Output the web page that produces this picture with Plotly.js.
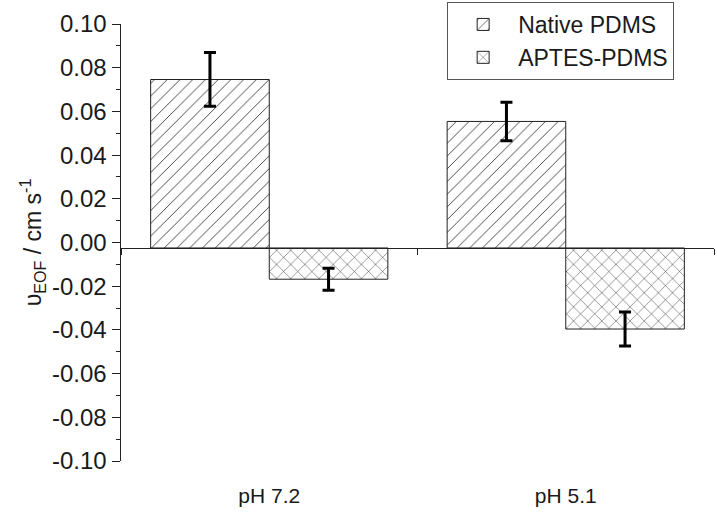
<!DOCTYPE html>
<html>
<head>
<meta charset="utf-8">
<script src="https://cdn.plot.ly/plotly-3.0.1.min.js"></script>
<style>
  html, body { margin: 0; padding: 0; background: #fff; }
  #chart { width: 717px; height: 514px; }
</style>
</head>
<body>
<div id="chart"></div>
<script>
// categories and values (cm/s)
const phLabels = ['pH 7.2', 'pH 5.1'];
const nativeVals = [0.0746, 0.0554];
const nativeErr = [0.0123, 0.0088];
const aptesVals = [-0.0168, -0.0396];
const aptesErr = [0.0050, 0.0078];
// y tick labels use a plain hyphen like the original
const yTickVals = [-0.10, -0.08, -0.06, -0.04, -0.02, 0.00, 0.02, 0.04, 0.06, 0.08, 0.10];
const yTickText = ['-0.10', '-0.08', '-0.06', '-0.04', '-0.02', '0.00', '0.02', '0.04', '0.06', '0.08', '0.10'];
// the bars start slightly below zero in the original plot
const baseLine = -0.0025;
const yRange = [-0.10, 0.10];

document.addEventListener("DOMContentLoaded", function () {
  const family = 'Liberation Sans, Arial, sans-serif';
  const tickFont = { family: family, size: 24, color: '#1a1a1a' };
  const catFont = { family: family, size: 21, color: '#1a1a1a' };
  const legFont = { family: family, size: 23, color: '#1a1a1a' };
  const titleFont = { family: family, size: 23, color: '#1a1a1a' };

  function barTrace(name, vals, errs, shape, size) {
    return {
      type: 'bar',
      name: name,
      x: phLabels,
      y: vals.map(v => v - baseLine),
      base: baseLine,
      marker: {
        color: 'white',
        line: { color: '#222', width: 1 },
        pattern: { shape: shape, size: size, solidity: 0.09, fgcolor: '#222', bgcolor: 'white' }
      },
      error_y: { type: 'data', array: errs, color: 'black', thickness: 3, width: 6 },
      hoverinfo: 'skip'
    };
  }

  const traces = [
    barTrace('Native PDMS', nativeVals, nativeErr, '/', 9),
    barTrace('APTES-PDMS', aptesVals, aptesErr, 'x', 10)
  ];

  // dummy trace so the overlay axis (the line through the bar bases) is drawn
  traces.push({
    type: 'scatter', x: phLabels, y: [null, null], xaxis: 'x2', yaxis: 'y',
    showlegend: false, hoverinfo: 'skip'
  });

  const layout = {
    width: 717,
    height: 514,
    margin: { l: 121, r: 3, t: 23, b: 53 },
    paper_bgcolor: 'white',
    plot_bgcolor: 'white',
    font: tickFont,
    barmode: 'group',
    bargap: 0.2,
    bargroupgap: 0,
    showlegend: true,
    legend: {
      x: 0.55, y: 1.048, xanchor: 'left', yanchor: 'top',
      bordercolor: '#555', borderwidth: 1, bgcolor: 'white',
      font: legFont, tracegroupgap: 0, itemwidth: 60
    },
    xaxis: {
      type: 'category',
      range: [-0.5, 1.5],
      showline: false,
      ticks: '',
      showgrid: false,
      zeroline: false,
      ticklabelstandoff: 20,
      tickfont: catFont
    },
    xaxis2: {
      type: 'category',
      overlaying: 'x',
      matches: 'x',
      anchor: 'free',
      position: (baseLine - yRange[0]) / (yRange[1] - yRange[0]),
      showline: true,
      linecolor: '#222',
      linewidth: 1.5,
      ticks: 'outside',
      tickson: 'boundaries',
      ticklen: 6,
      tickcolor: '#222',
      showticklabels: false,
      showgrid: false,
      zeroline: false
    },
    yaxis: {
      range: yRange,
      tickvals: yTickVals,
      ticktext: yTickText,
      showline: true,
      linecolor: '#222',
      linewidth: 1.5,
      ticks: 'outside',
      ticklen: 8,
      tickcolor: '#222',
      minor: { dtick: 0.01, ticks: 'outside', ticklen: 4, tickcolor: '#222' },
      showgrid: false,
      zeroline: false,
      tickfont: tickFont,
      title: {
        text: 'υ<sub>EOF</sub> / cm s<sup>-1</sup>',
        font: titleFont,
        standoff: 4
      }
    }
  };

  Plotly.newPlot('chart', traces, layout, { staticPlot: true });
});
</script>
</body>
</html>
